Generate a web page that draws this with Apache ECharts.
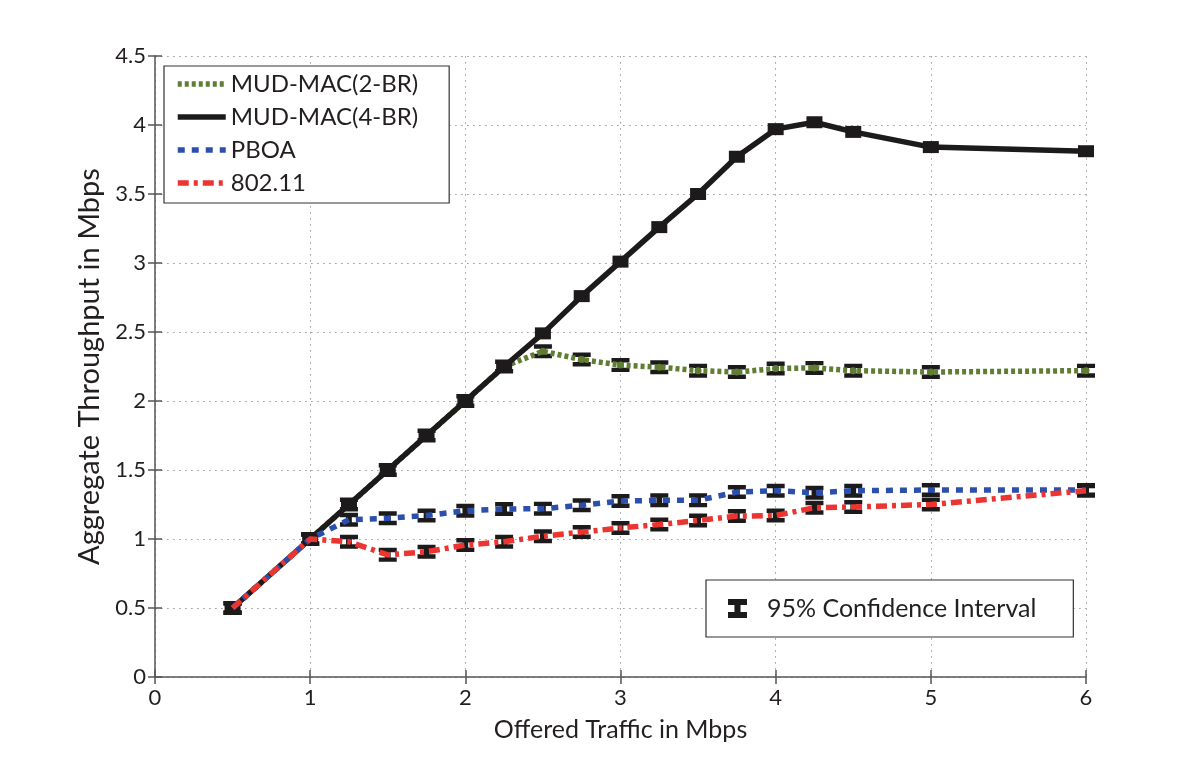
<!DOCTYPE html>
<html>
<head>
<meta charset="utf-8">
<script src="https://cdn.jsdelivr.net/npm/echarts@6/dist/echarts.min.js"></script>
<style>
html,body{margin:0;padding:0;background:#fff;}
#chart{width:1200px;height:761px;}
</style>
</head>
<body>
<div id="chart"></div>
<script>
// ---- data ----
var offeredTraffic = [0.5, 1, 1.25, 1.5, 1.75, 2, 2.25, 2.5, 2.75, 3, 3.25, 3.5, 3.75, 4, 4.25, 4.5, 5, 6];
var mud2br = [0.5, 1.0, 1.25, 1.5, 1.75, 2.0, 2.25, 2.36, 2.30, 2.26, 2.245, 2.22, 2.21, 2.235, 2.24, 2.22, 2.21, 2.22];
var mud4br = [0.5, 1.0, 1.25, 1.5, 1.75, 2.0, 2.25, 2.49, 2.76, 3.01, 3.26, 3.5, 3.77, 3.97, 4.02, 3.95, 3.84, 3.81];
var pboa   = [0.5, 1.0, 1.14, 1.15, 1.17, 1.205, 1.217, 1.22, 1.245, 1.275, 1.28, 1.28, 1.34, 1.35, 1.335, 1.35, 1.355, 1.355];
var wifi   = [0.5, 1.0, 0.98, 0.885, 0.908, 0.956, 0.98, 1.02, 1.05, 1.08, 1.105, 1.134, 1.166, 1.17, 1.227, 1.232, 1.25, 1.35];
var xTicks = [0, 1, 2, 3, 4, 5, 6];
var yTicks = [0, 0.5, 1, 1.5, 2, 2.5, 3, 3.5, 4, 4.5];
var seriesNames = ['MUD-MAC(2-BR)', 'MUD-MAC(4-BR)', 'PBOA', '802.11'];
var ciName = '95% Confidence Interval';

function pairs(ys) { return offeredTraffic.map(function (x, i) { return [x, ys[i]]; }); }

var FONT = 'Lato';
var ibeam = 'path://M0,0 L10,0 L10,3.2 L6.6,3.2 L6.6,6.8 L10,6.8 L10,10 L0,10 L0,6.8 L3.4,6.8 L3.4,3.2 L0,3.2 Z';

var colors = { g: '#5f7e33', k: '#1c1a1a', b: '#2c4fae', r: '#ec3530' };

function errorBars(ys, z) {
  return {
    name: ciName, type: 'scatter', data: pairs(ys), symbol: ibeam,
    symbolSize: [18, 14], z: z, silent: true,
    itemStyle: { color: '#1c1a1a', opacity: 1 }
  };
}

var chart = echarts.init(document.getElementById('chart'), null, { renderer: 'canvas' });

var axisColor = '#555';
var gridLine = { show: true, lineStyle: { color: '#a8a8a8', width: 1, type: [1.5, 4.5] } };
var option = {
  animation: false,
  backgroundColor: '#fff',
  textStyle: { fontFamily: FONT, color: '#231f20' },
  grid: { left: 155, right: 114, top: 56, bottom: 84, show: false },
  legend: [{
    data: seriesNames,
    orient: 'vertical',
    left: 164, top: 66,
    itemWidth: 48, itemHeight: 14, itemGap: 9,
    padding: [6, 31, 8, 11],
    borderColor: '#333', borderWidth: 1.2,
    backgroundColor: '#fff',
    itemStyle: { opacity: 0 },
    lineStyle: { width: 5.5 },
    textStyle: { fontFamily: FONT, fontSize: 24, color: '#231f20' },
    selectedMode: false
  }, {
    data: [ciName],
    orient: 'vertical',
    left: 706, top: 580,
    itemWidth: 19, itemHeight: 24,
    padding: [16, 37, 16, 22],
    borderColor: '#333', borderWidth: 1.2,
    backgroundColor: '#fff',
    textStyle: { fontFamily: FONT, fontSize: 25, color: '#231f20', padding: [0, 0, 0, 15] },
    selectedMode: false
  }],
  xAxis: [{
    type: 'value', min: xTicks[0], max: xTicks[xTicks.length - 1], interval: 1,
    name: 'Offered Traffic in Mbps', nameLocation: 'middle', nameGap: 40,
    nameTextStyle: { fontFamily: FONT, fontSize: 25, color: '#231f20' },
    axisLine: { show: true, onZero: false, lineStyle: { color: axisColor, width: 1.5 } },
    axisTick: { show: true, inside: true, length: 7, lineStyle: { color: axisColor, width: 1.5 } },
    axisLabel: { fontFamily: FONT, fontSize: 22, color: '#231f20', margin: 10 },
    splitLine: gridLine
  }, {
    type: 'value', position: 'top', min: xTicks[0], max: xTicks[xTicks.length - 1], interval: 1,
    axisLine: { show: false },
    axisTick: { show: true, inside: true, length: 7, lineStyle: { color: axisColor, width: 1.5 } },
    axisLabel: { show: false }, splitLine: gridLine
  }],
  yAxis: [{
    type: 'value', min: yTicks[0], max: yTicks[yTicks.length - 1], interval: 0.5,
    name: 'Aggregate Throughput in Mbps', nameLocation: 'middle', nameGap: 50,
    nameTextStyle: { fontFamily: FONT, fontSize: 29, color: '#231f20' },
    axisLine: { show: true, onZero: false, lineStyle: { color: axisColor, width: 1.5 } },
    axisTick: { show: true, inside: true, length: 7, lineStyle: { color: axisColor, width: 1.5 } },
    axisLabel: { fontFamily: FONT, fontSize: 22, color: '#231f20', margin: 9 },
    splitLine: gridLine
  }, {
    type: 'value', position: 'right', min: yTicks[0], max: yTicks[yTicks.length - 1], interval: 0.5,
    axisLine: { show: false },
    axisTick: { show: true, inside: true, length: 7, lineStyle: { color: axisColor, width: 1.5 } },
    axisLabel: { show: false }, splitLine: gridLine
  }],
  series: [
    errorBars(mud2br, 2),
    {
      name: seriesNames[0], type: 'line', data: pairs(mud2br), symbol: 'none', z: 3,
      lineStyle: { color: colors.g, width: 5.5, type: [4, 3] },
      itemStyle: { color: colors.g }
    },
    {
      name: 'MUD-MAC(2-BR) markers', type: 'scatter', data: pairs(mud2br), symbol: 'circle',
      symbolSize: 7, z: 3, silent: true, itemStyle: { color: colors.g, opacity: 1 }
    },
    {
      name: seriesNames[1], type: 'line', data: pairs(mud4br), symbol: 'none', z: 4,
      lineStyle: { color: colors.k, width: 5.5, type: 'solid' },
      itemStyle: { color: colors.k }
    },
    {
      name: 'MUD-MAC(4-BR) markers', type: 'scatter', data: pairs(mud4br), symbol: 'rect',
      symbolSize: [16, 12], z: 4, silent: true, itemStyle: { color: colors.k, opacity: 1 }
    },
    errorBars(pboa, 5),
    errorBars(wifi, 5),
    {
      name: seriesNames[2], type: 'line', data: pairs(pboa), symbol: 'none', z: 6,
      lineStyle: { color: colors.b, width: 5.5, type: [7, 7] },
      itemStyle: { color: colors.b }
    },
    {
      name: seriesNames[3], type: 'line', data: pairs(wifi), symbol: 'none', z: 7,
      lineStyle: { color: colors.r, width: 5.5, type: [11, 5, 4, 5] },
      itemStyle: { color: colors.r }
    }
  ]
};
chart.setOption(option);
</script>
</body>
</html>
